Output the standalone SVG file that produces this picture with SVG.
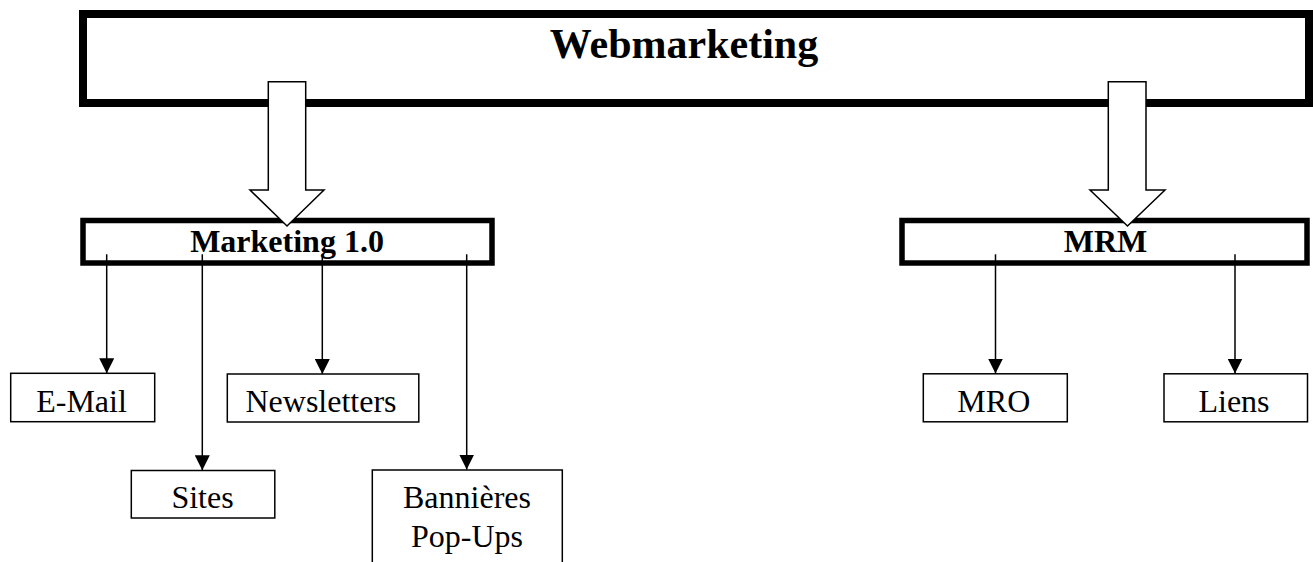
<svg xmlns="http://www.w3.org/2000/svg" width="1313" height="562" viewBox="0 0 1313 562">
<style>
  .thick{fill:#fff;stroke:#000;stroke-width:8}
  .mid{fill:#fff;stroke:#000;stroke-width:5.5}
  .thin{fill:#fff;stroke:#000;stroke-width:1.5}
  .big{fill:#fff;stroke:#000;stroke-width:1.5}
  .conn{fill:none;stroke:#000;stroke-width:1.5}
  .tb{font-family:"Liberation Serif","Times New Roman",serif;font-weight:bold;font-size:32px;text-anchor:middle;fill:#000}
  .tr{font-family:"Liberation Serif","Times New Roman",serif;font-size:32px;text-anchor:middle;fill:#000}
</style>
<defs>
  <marker id="ah" markerUnits="userSpaceOnUse" markerWidth="15" markerHeight="15" refX="15" refY="7.5" orient="auto" viewBox="0 0 15 15">
    <path d="M0,0 L15,7.5 L0,15 z" fill="#000"/>
  </marker>
</defs>
<g id="webmarketing">
  <rect class="thick" x="83" y="14" width="1226" height="89"/>
  <text class="tb" x="684" y="58" style="font-size:42px">Webmarketing</text>
</g>
<g id="marketing10">
  <rect class="mid" x="83" y="220.5" width="409" height="42.5"/>
  <text class="tb" x="287" y="252.3">Marketing 1.0</text>
</g>
<g id="mrm">
  <rect class="mid" x="902" y="220.5" width="405" height="42.5"/>
  <text class="tb" x="1105.5" y="252.3">MRM</text>
</g>
<g id="email">
  <rect class="thin" x="10.7" y="373.3" width="144" height="48.4"/>
  <text class="tr" x="81.5" y="412.3">E-Mail</text>
</g>
<g id="sites">
  <rect class="thin" x="131.3" y="470.5" width="143.5" height="47.5"/>
  <text class="tr" x="202.5" y="508.3">Sites</text>
</g>
<g id="newsletters">
  <rect class="thin" x="227.3" y="374" width="191.5" height="48"/>
  <text class="tr" x="321" y="412.3">Newsletters</text>
</g>
<g id="bannieres">
  <rect class="thin" x="372.3" y="470" width="190" height="100"/>
  <text class="tr" x="467" y="508.3">Bannières</text>
  <text class="tr" x="467" y="546.7">Pop-Ups</text>
</g>
<g id="mro">
  <rect class="thin" x="923.3" y="373.8" width="144" height="48"/>
  <text class="tr" x="993.8" y="412.3">MRO</text>
</g>
<g id="liens">
  <rect class="thin" x="1164" y="373.8" width="143.5" height="48"/>
  <text class="tr" x="1234" y="412.3">Liens</text>
</g>
<g id="connectors">
  <polygon class="big" points="268.3,81.7 305.7,81.7 305.7,190 324,190 287,226 250,190 268.3,190"/>
  <polygon class="big" points="1108.3,81.7 1146,81.7 1146,190 1165,190 1127.5,226 1090,190 1108.3,190"/>
  <line class="conn" x1="106.7" y1="254.3" x2="106.7" y2="373.3" marker-end="url(#ah)"/>
  <line class="conn" x1="202.3" y1="254.3" x2="202.3" y2="470.3" marker-end="url(#ah)"/>
  <line class="conn" x1="322.3" y1="254.3" x2="322.3" y2="374" marker-end="url(#ah)"/>
  <line class="conn" x1="466.7" y1="254.3" x2="466.7" y2="469.5" marker-end="url(#ah)"/>
  <line class="conn" x1="995.5" y1="254.3" x2="995.5" y2="373.5" marker-end="url(#ah)"/>
  <line class="conn" x1="1235" y1="254.3" x2="1235" y2="373.5" marker-end="url(#ah)"/>
</g>
</svg>
